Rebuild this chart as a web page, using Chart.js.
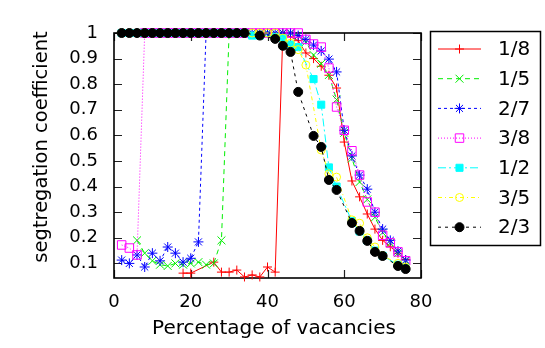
<!DOCTYPE html>
<html>
<head>
<meta charset="utf-8">
<title>segregation coefficient</title>
<script src="https://cdn.jsdelivr.net/npm/chart.js"></script>
<style>
  html, body { margin: 0; padding: 0; background: #fff; }
</style>
</head>
<body>
<canvas id="segChart" width="545" height="348"></canvas>
<script>
// tick values / labels
const xTicks = [0, 20, 40, 60, 80];
const yTicks = [0.1, 0.2, 0.3, 0.4, 0.5, 0.6, 0.7, 0.8, 0.9, 1];
const yTickLabels = ['0.1', '0.2', '0.3', '0.4', '0.5', '0.6', '0.7', '0.8', '0.9', '1'];
const xTitle = 'Percentage of vacancies';
const yTitle = 'segtregation coefficient';

const seriesNames = ['1/8', '1/5', '2/7', '3/8', '1/2', '3/5', '2/3'];

// 1/8
const xRed = [18,20,26,28,30,32,34,36,38,40,42,44,46,48,50,52,54,56,58,60,62,64,66,68,70,72,74,76];
const yRed = [0.062,0.062,0.105,0.066,0.066,0.074,0.047,0.055,0.047,0.086,0.066,1,0.985,0.97,0.922,0.9,0.87,0.835,0.785,0.574,0.422,0.36,0.293,0.234,0.19,0.165,0.14,0.115];
// 1/5
const xGreen = [6,8,10,12,14,16,18,20,22,24,26,28,30,32,34,36,38,40,42,44,46,48,50,52,54,56,58,60,62,64,66,68,70,72,74,76];
const yGreen = [0.19,0.14,0.11,0.095,0.09,0.1,0.095,0.1,0.105,0.095,0.1,0.19,1,1,1,1,1,1,1,1,1,0.99,0.965,0.914,0.88,0.836,0.74,0.61,0.51,0.418,0.35,0.28,0.22,0.18,0.14,0.11];
// 2/7
const xBlue = [2,4,6,8,10,12,14,16,18,20,22,24,26,28,30,32,34,36,38,40,42,44,46,48,50,52,54,56,58,60,62,64,66,68,70,72,74,76];
const yBlue = [0.113,0.1,0.133,0.086,0.14,0.11,0.164,0.14,0.105,0.12,0.184,1,1,1,1,1,1,1,1,1,1,1,1,0.99,0.975,0.953,0.93,0.898,0.848,0.62,0.52,0.445,0.39,0.3,0.234,0.19,0.148,0.113];
// 3/8
const xPink = [2,4,6,8,10,12,14,16,18,20,22,24,26,28,30,32,34,36,38,40,42,44,46,48,50,52,54,56,58,60,62,64,66,68,70,72,74,76];
const yPink = [0.172,0.16,0.133,1,1,1,1,1,1,1,1,1,1,1,1,1,1,1,1,1,1,1,1,1,0.975,0.957,0.945,0.863,0.711,0.62,0.54,0.445,0.34,0.3,0.21,0.18,0.145,0.11];
// 1/2
const xCyan = [2,4,6,8,10,12,14,16,18,20,22,24,26,28,30,32,34,36,38,42,44,46,48,52,54,56,58,62,64,66,68,70,74,76];
const yCyan = [1,1,1,1,1,1,1,1,1,1,1,1,1,1,1,1,1,0.99,0.99,0.985,0.98,0.955,0.945,0.82,0.72,0.475,0.4,0.265,0.225,0.19,0.15,0.13,0.095,0.082];
// 3/5
const xYellow = [2,4,6,8,10,12,14,16,18,20,22,24,26,28,30,32,34,36,38,40,42,44,46,48,50,54,56,58,62,64,66,68,70,74,76];
const yYellow = [1,1,1,1,1,1,1,1,1,1,1,1,1,1,1,1,1,1,1,1,1,0.98,0.96,0.935,0.875,0.543,0.45,0.437,0.27,0.257,0.2,0.164,0.13,0.1,0.085];
// 2/3
const xBlack = [2,4,6,8,10,12,14,16,18,20,22,24,26,28,30,32,34,38,42,44,46,48,52,54,56,58,62,64,66,68,70,74,76];
const yBlack = [1,1,1,1,1,1,1,1,1,1,1,1,1,1,1,1,1,0.99,0.977,0.95,0.926,0.77,0.598,0.555,0.426,0.387,0.258,0.227,0.188,0.145,0.129,0.09,0.078];

const xsAll = [xRed, xGreen, xBlue, xPink, xCyan, xYellow, xBlack];
const ysAll = [yRed, yGreen, yBlue, yPink, yCyan, yYellow, yBlack];

// line / marker styles per series (gnuplot look)
const styles = [
  { color: '#ff0000', dash: [],          point: 'cross',    r: 4.5, fill: false },
  { color: '#00ee00', dash: [5, 4],      point: 'crossRot', r: 5.6, fill: false },
  { color: '#0000ff', dash: [3, 3],      point: 'star',     r: 5,   fill: false },
  { color: '#ff00ff', dash: [1, 2],      point: 'rect',     r: 6,   fill: false },
  { color: '#00ffff', dash: [8, 3, 2, 3], point: 'rect',    r: 5,   fill: true },
  { color: '#ffff00', dash: [4, 3, 1, 3], point: 'circle',  r: 4,   fill: false },
  { color: '#000000', dash: [3, 4],      point: 'circle',   r: 4.5, fill: true }
];

const datasets = seriesNames.map((name, i) => ({
  label: name,
  data: xsAll[i].map((x, j) => ({ x: x, y: ysAll[i][j] })),
  borderColor: styles[i].color,
  borderWidth: 1,
  borderDash: styles[i].dash,
  pointStyle: styles[i].point,
  pointRadius: styles[i].r,
  pointBorderColor: styles[i].color,
  pointBorderWidth: 1,
  pointBackgroundColor: styles[i].fill ? styles[i].color : 'rgba(0,0,0,0)',
  fill: false,
  tension: 0,
  clip: false,
  order: seriesNames.length - i
}));

function drawMarker(ctx, st, x, y) {
  const r = st.r;
  const d = r * Math.SQRT1_2;
  ctx.beginPath();
  if (st.point === 'cross' || st.point === 'star') {
    ctx.moveTo(x - r, y); ctx.lineTo(x + r, y);
    ctx.moveTo(x, y - r); ctx.lineTo(x, y + r);
  }
  if (st.point === 'crossRot' || st.point === 'star') {
    ctx.moveTo(x - d, y - d); ctx.lineTo(x + d, y + d);
    ctx.moveTo(x - d, y + d); ctx.lineTo(x + d, y - d);
  }
  if (st.point === 'rect') ctx.rect(x - d, y - d, 2 * d, 2 * d);
  if (st.point === 'circle') ctx.arc(x, y, r, 0, Math.PI * 2);
  if (st.fill) { ctx.fillStyle = st.color; ctx.fill(); }
  ctx.stroke();
}

// border and inward ticks, like gnuplot
const frameTicks = {
  id: 'frameTicks',
  beforeDatasetsDraw(chart) {
    const { ctx, chartArea: a } = chart;
    const sx = chart.scales.x, sy = chart.scales.y;
    ctx.save();
    ctx.strokeStyle = '#222';
    ctx.lineWidth = 1.2;
    ctx.beginPath();
    yTicks.forEach(v => {
      const py = Math.round(sy.getPixelForValue(v)) + 0.5;
      ctx.moveTo(a.left, py); ctx.lineTo(a.left + 8, py);
      ctx.moveTo(a.right, py); ctx.lineTo(a.right - 8, py);
    });
    xTicks.forEach(v => {
      const px = Math.round(sx.getPixelForValue(v)) + 0.5;
      ctx.moveTo(px, a.bottom); ctx.lineTo(px, a.bottom - 8);
      ctx.moveTo(px, a.top); ctx.lineTo(px, a.top + 8);
    });
    ctx.stroke();
    ctx.strokeStyle = '#000';
    ctx.lineWidth = 1.6;
    ctx.strokeRect(a.left, a.top, a.right - a.left, a.bottom - a.top);
    ctx.restore();
  }
};

// axis titles + key box at the right
const keyBox = {
  id: 'keyBox',
  afterDraw(chart) {
    const ctx = chart.ctx;
    ctx.save();
    ctx.fillStyle = '#000';
    ctx.textAlign = 'center';
    ctx.textBaseline = 'middle';
    ctx.font = '20px "DejaVu Sans"';
    ctx.fillText(xTitle, 274, 329);
    ctx.save();
    ctx.translate(42, 147);
    ctx.rotate(-Math.PI / 2);
    ctx.font = '19.5px "DejaVu Sans"';
    ctx.fillText(yTitle, 0, 0);
    ctx.restore();

    ctx.strokeStyle = '#000';
    ctx.lineWidth = 1.5;
    ctx.strokeRect(430.5, 31.5, 110, 214);
    ctx.font = '20px "DejaVu Sans"';
    ctx.textAlign = 'left';
    seriesNames.forEach((name, i) => {
      const st = styles[i];
      const y = 49 + i * 29.7;
      ctx.strokeStyle = st.color;
      ctx.lineWidth = 1;
      ctx.setLineDash(st.dash);
      ctx.beginPath();
      ctx.moveTo(438, y); ctx.lineTo(481, y);
      ctx.stroke();
      ctx.setLineDash([]);
      drawMarker(ctx, st, 459.5, y);
      ctx.fillStyle = '#000';
      ctx.fillText(name, 498, y + 1);
    });
    ctx.restore();
  }
};

new Chart(document.getElementById('segChart'), {
  type: 'line',
  data: { datasets: datasets },
  options: {
    responsive: false,
    animation: false,
    layout: { padding: { left: 0, right: 124, top: 33, bottom: 0 } },
    plugins: { legend: { display: false }, tooltip: { enabled: false } },
    scales: {
      x: {
        type: 'linear',
        min: 0,
        max: 80,
        afterBuildTicks: s => { s.ticks = xTicks.map(v => ({ value: v })); },
        afterFit: s => { s.height = 70; },
        grid: { display: false, drawTicks: false },
        border: { display: false },
        ticks: { color: '#000', padding: 14, maxRotation: 0, autoSkip: false,
                 font: { family: 'DejaVu Sans', size: 18 } }
      },
      y: {
        type: 'linear',
        min: 0.043,
        max: 1,
        afterBuildTicks: s => { s.ticks = yTicks.map(v => ({ value: v })); },
        afterFit: s => { s.width = 114; },
        grid: { display: false, drawTicks: false },
        border: { display: false },
        ticks: { color: '#000', padding: 16, autoSkip: false,
                 font: { family: 'DejaVu Sans', size: 18 },
                 callback: (v, i) => yTickLabels[i] }
      }
    }
  },
  plugins: [frameTicks, keyBox]
});
</script>
</body>
</html>
